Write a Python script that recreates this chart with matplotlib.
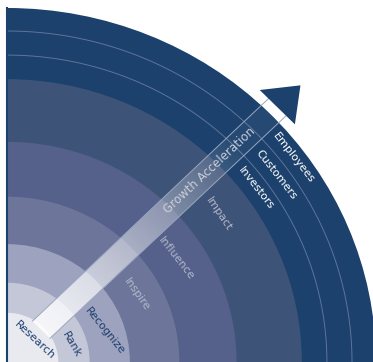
import numpy as np
import matplotlib.pyplot as plt
from matplotlib.patches import Wedge, Polygon

# rings, from the centre outwards
labels = ['Research', 'Rank', 'Recognize', 'Inspire', 'Influence', 'Impact',
          'Investors', 'Customers', 'Employees']
ring_outer = [0.139, 0.224, 0.333, 0.467, 0.622, 0.799, 0.867, 0.935, 1.0]
arrow_text = 'Growth Acceleration'

# styling
ring_colors = ['#e8eaf0', '#c4c7d7', '#9da2be', '#6d769a', '#55618a', '#3e5378',
               '#1b416c', '#1b416c', '#1b416c']
text_colors = ['#1e3f6e', '#1e3f6e', '#1e3f6e', '#b3b8cb', '#b3b8cb', '#b3b8cb',
               'white', 'white', 'white']
label_angle = [40, 16, 18.5, 28.5, 32.5, 36, 36, 36, 36.5]
label_rfrac = [0.7, 0.5, 0.5, 0.5, 0.5, 0.5, 0.5, 0.5, 0.5]
label_rot = [-43, -60, -51, -55, -52, -56, -52, -52, -52]
navy = '#1b416c'

fig = plt.figure(figsize=(3.73, 3.62), dpi=100)
ax = fig.add_axes([0, 0, 1, 1])
ax.set_xlim(-7 / 369, 366 / 369)
ax.set_ylim(0, 362 / 354)
ax.axis('off')

# filled rings (outer first)
for r, c in reversed(list(zip(ring_outer, ring_colors))):
    ax.add_patch(Wedge((0, 0), r, 0, 90, facecolor=c, edgecolor='none'))

# thin separators in the dark outer band
for r in ring_outer[6:8]:
    th = np.linspace(0, np.pi / 2, 300)
    ax.plot(r * np.cos(th), r * np.sin(th), color='#5f749b', lw=0.7)

ax.plot([0, 0], [0, ring_outer[-1]], color=navy, lw=1.5)

# arrow
a = np.radians(44.5)
d = np.array([np.cos(a), np.sin(a)])
n = np.array([np.sin(a), -np.cos(a)])
r0, rb, rt = 0.13, 1.027, 1.115
hw, hh = 0.034, 0.068
band_pts = [r0 * d + hw * n, rb * d + hw * n, rb * d - hw * n, r0 * d - hw * n]
band = Polygon(band_pts, closed=True, facecolor='none', edgecolor='none')
ax.add_patch(band)

uu, vv = np.meshgrid(np.linspace(-0.02, 1.0, 400), np.linspace(0, 1.03, 400))
t = uu * d[0] + vv * d[1]
img = np.ones((400, 400, 4))
img[..., 3] = np.clip(0.85 - 1.07 * (t - r0), 0.05, 1)
im = ax.imshow(img, extent=(-0.02, 1.0, 0, 1.03), origin='lower',
               aspect='auto', interpolation='bilinear', zorder=3)
im.set_clip_path(band)

for s in (1, -1):
    p1 = r0 * d + s * hw * n
    p2 = rb * d + s * hw * n
    ax.plot([p1[0], p2[0]], [p1[1], p2[1]], color='#9aa6c0', lw=0.7, zorder=4)

head = Polygon([rb * d + hh * n, rt * d, rb * d - hh * n], closed=True,
               facecolor=navy, edgecolor='none', zorder=5)
ax.add_patch(head)

tc = 0.77 * d
ax.text(tc[0], tc[1], arrow_text, rotation=43, rotation_mode='anchor',
        ha='center', va='center', fontsize=8.5, color='#c9cdd9', zorder=6)

# ring labels
inner = [0] + ring_outer[:-1]
for i, lab in enumerate(labels):
    r = inner[i] + label_rfrac[i] * (ring_outer[i] - inner[i])
    th = np.radians(label_angle[i])
    ax.text(r * np.cos(th), r * np.sin(th), lab, rotation=label_rot[i],
            rotation_mode='anchor', ha='center', va='center', fontsize=8,
            color=text_colors[i], zorder=6)

fig.savefig('out.png', dpi=100)
